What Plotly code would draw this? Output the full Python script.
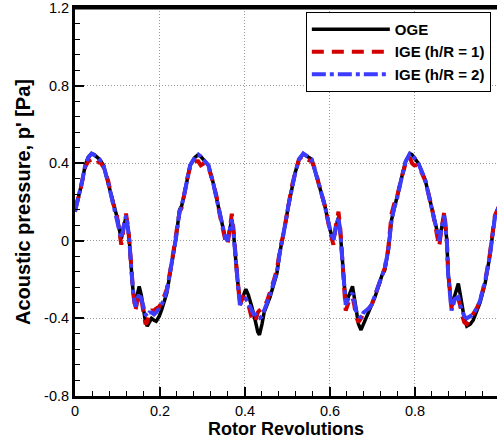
import plotly.graph_objects as go

# Rotor revolutions (shared sample positions)
x_rev = [
    0.000, 0.006, 0.012, 0.018, 0.024, 0.031, 0.039, 0.045, 0.051, 0.058, 0.067, 0.078, 0.090, 0.098,
    0.106, 0.109, 0.114, 0.120, 0.125, 0.128, 0.132, 0.137, 0.142, 0.147, 0.151, 0.156, 0.161, 0.166,
    0.170, 0.175, 0.180, 0.186, 0.191, 0.198, 0.204, 0.216, 0.227, 0.238, 0.246,
    0.251, 0.259, 0.265, 0.271, 0.282, 0.290, 0.296, 0.304, 0.314, 0.325, 0.333, 0.341, 0.353, 0.359,
    0.364, 0.369, 0.373, 0.376, 0.381, 0.388, 0.395, 0.402, 0.408, 0.416, 0.421, 0.425, 0.430, 0.434,
    0.440, 0.445, 0.452, 0.459, 0.467, 0.475, 0.482, 0.490, 0.496,
    0.502, 0.510, 0.518, 0.527, 0.537, 0.547, 0.557, 0.565, 0.573, 0.588, 0.600, 0.608, 0.614, 0.620,
    0.624, 0.626, 0.631, 0.637, 0.645, 0.653, 0.657, 0.661, 0.667, 0.673, 0.679, 0.685, 0.691, 0.698,
    0.706, 0.714, 0.722, 0.729, 0.737,
    0.745, 0.751, 0.757, 0.769, 0.778, 0.788, 0.793, 0.798, 0.808, 0.824, 0.839, 0.851, 0.857, 0.863,
    0.869, 0.872, 0.875, 0.878, 0.886, 0.894, 0.902, 0.906, 0.910, 0.916, 0.922, 0.930, 0.937, 0.945,
    0.953, 0.965, 0.976, 0.988, 1.000,
]

# OGE
p_oge = [
    0.15, 0.20, 0.26, 0.32, 0.39, 0.43, 0.45, 0.445, 0.435, 0.42, 0.39, 0.30, 0.19, 0.13,
    0.04, 0.01, 0.07, 0.12, 0.06, 0.00, -0.13, -0.27, -0.32, -0.27, -0.235, -0.28, -0.34, -0.42,
    -0.44, -0.42, -0.40, -0.41, -0.415, -0.39, -0.356, -0.27, -0.13, 0.02, 0.16,
    0.18, 0.26, 0.33, 0.39, 0.43, 0.444, 0.435, 0.415, 0.39, 0.30, 0.22, 0.14, 0.02, 0.005,
    0.06, 0.11, 0.04, -0.05, -0.17, -0.32, -0.29, -0.25, -0.28, -0.34, -0.38, -0.42, -0.47, -0.485,
    -0.43, -0.37, -0.33, -0.29, -0.23, -0.17, -0.06, 0.02, 0.10,
    0.18, 0.27, 0.35, 0.42, 0.449, 0.435, 0.42, 0.36, 0.30, 0.18, 0.057, 0.005, 0.07, 0.12,
    0.05, -0.01, -0.17, -0.32, -0.28, -0.235, -0.29, -0.356, -0.43, -0.46, -0.43, -0.40, -0.37, -0.34,
    -0.29, -0.235, -0.18, -0.15, -0.05,
    0.11, 0.17, 0.21, 0.33, 0.41, 0.45, 0.445, 0.43, 0.40, 0.315, 0.18, 0.057, 0.005, 0.07,
    0.134, 0.06, 0.005, -0.17, -0.34, -0.28, -0.22, -0.27, -0.32, -0.40, -0.44, -0.43, -0.41, -0.37,
    -0.32, -0.22, -0.08, 0.125, 0.19,
]

# IGE (h/R = 1)
p_ige1 = [
    0.17, 0.21, 0.25, 0.32, 0.38, 0.41, 0.42, 0.40, 0.40, 0.41, 0.38, 0.31, 0.19, 0.14,
    0.03, -0.02, 0.06, 0.14, 0.07, 0.00, -0.12, -0.27, -0.36, -0.31, -0.28, -0.30, -0.37, -0.43,
    -0.42, -0.37, -0.36, -0.36, -0.35, -0.34, -0.32, -0.25, -0.12, 0.03, 0.15,
    0.17, 0.27, 0.33, 0.38, 0.41, 0.41, 0.39, 0.40, 0.38, 0.30, 0.23, 0.13, 0.01, -0.02,
    0.07, 0.14, 0.06, -0.04, -0.16, -0.33, -0.29, -0.30, -0.33, -0.40, -0.42, -0.41, -0.37, -0.36,
    -0.35, -0.34, -0.31, -0.27, -0.21, -0.15, -0.05, 0.03, 0.11,
    0.17, 0.28, 0.35, 0.42, 0.44, 0.42, 0.41, 0.37, 0.30, 0.18, 0.05, -0.02, 0.08, 0.15,
    0.07, -0.01, -0.16, -0.36, -0.31, -0.29, -0.33, -0.39, -0.42, -0.40, -0.37, -0.36, -0.35, -0.33,
    -0.28, -0.22, -0.17, -0.14, -0.04,
    0.14, 0.19, 0.22, 0.33, 0.40, 0.43, 0.40, 0.39, 0.39, 0.31, 0.18, 0.04, -0.03, 0.07,
    0.15, 0.08, 0.00, -0.16, -0.35, -0.32, -0.30, -0.33, -0.38, -0.42, -0.43, -0.40, -0.38, -0.35,
    -0.31, -0.21, -0.07, 0.13, 0.19,
]

# IGE (h/R = 2)
p_ige2 = [
    0.15, 0.20, 0.26, 0.32, 0.39, 0.43, 0.45, 0.445, 0.435, 0.42, 0.39, 0.30, 0.19, 0.13,
    0.04, 0.01, 0.07, 0.13, 0.06, 0.00, -0.13, -0.27, -0.34, -0.30, -0.27, -0.30, -0.35, -0.38,
    -0.39, -0.37, -0.37, -0.38, -0.37, -0.35, -0.33, -0.26, -0.13, 0.02, 0.15,
    0.18, 0.26, 0.33, 0.39, 0.43, 0.445, 0.435, 0.415, 0.39, 0.30, 0.22, 0.14, 0.02, 0.00,
    0.06, 0.11, 0.04, -0.05, -0.17, -0.33, -0.31, -0.30, -0.32, -0.36, -0.38, -0.38, -0.40, -0.40,
    -0.39, -0.36, -0.32, -0.28, -0.22, -0.16, -0.06, 0.02, 0.10,
    0.18, 0.27, 0.35, 0.42, 0.45, 0.435, 0.42, 0.36, 0.30, 0.18, 0.06, 0.00, 0.07, 0.12,
    0.05, -0.01, -0.17, -0.33, -0.29, -0.27, -0.31, -0.36, -0.38, -0.40, -0.37, -0.36, -0.35, -0.33,
    -0.28, -0.23, -0.17, -0.14, -0.05,
    0.11, 0.17, 0.21, 0.33, 0.41, 0.45, 0.445, 0.43, 0.40, 0.315, 0.18, 0.06, 0.00, 0.07,
    0.13, 0.06, 0.00, -0.17, -0.36, -0.30, -0.29, -0.33, -0.36, -0.39, -0.40, -0.39, -0.38, -0.35,
    -0.31, -0.21, -0.08, 0.12, 0.19,
]

y_tickvals = [-0.8, -0.4, 0, 0.4, 0.8, 1.2]
y_ticktext = ["-0.8", "-0.4", "0", "0.4", "0.8", "1.2"]
x_tickvals = [0, 0.2, 0.4, 0.6, 0.8]
x_ticktext = ["0", "0.2", "0.4", "0.6", "0.8"]

FONT = "Liberation Sans, Arial, sans-serif"

fig = go.Figure()
fig.add_trace(go.Scatter(x=x_rev, y=p_oge, mode="lines", name="OGE",
                         line=dict(color="#000000", width=3.5)))
fig.add_trace(go.Scatter(x=x_rev, y=p_ige1, mode="lines", name="IGE (h/R = 1)",
                         line=dict(color="#d40000", width=4, dash="12px,8px")))
fig.add_trace(go.Scatter(x=x_rev, y=p_ige2, mode="lines", name="IGE (h/R = 2)",
                         line=dict(color="#3c3cff", width=4, dash="14px,4px,4px,4px")))

fig.update_layout(
    width=498, height=444,
    margin=dict(l=75, r=1, t=8, b=48),
    paper_bgcolor="white", plot_bgcolor="white",
    font=dict(family=FONT, color="black"),
    showlegend=True,
    legend=dict(x=0.547, y=0.99, xanchor="left", yanchor="top",
                bgcolor="white", bordercolor="black", borderwidth=1,
                font=dict(family=FONT, size=15, color="black", weight="bold"),
                itemwidth=78, tracegroupgap=0),
    xaxis=dict(range=[0, 0.993], tickvals=x_tickvals, ticktext=x_ticktext,
               showline=True, linecolor="black", linewidth=3, mirror=True,
               ticks="inside", ticklen=9, tickwidth=2, tickcolor="black",
               tickfont=dict(size=14.5, color="black"),
               minor=dict(ticks="inside", ticklen=5, tickwidth=1, tickcolor="black", dtick=0.04,
                          tick0=0, showgrid=False),
               showgrid=True, gridcolor="#999999", griddash="1px,2px", gridwidth=1,
               zeroline=False,
               title=dict(text="<b>Rotor Revolutions</b>", font=dict(size=18, color="black"),
                          standoff=4)),
    yaxis=dict(range=[-0.801, 1.2015], tickvals=y_tickvals, ticktext=y_ticktext,
               showline=True, linecolor="black", linewidth=3, mirror=False,
               ticks="inside", ticklen=9, tickwidth=2, tickcolor="black",
               tickfont=dict(size=14.5, color="black"),
               minor=dict(ticks="inside", ticklen=5, tickwidth=1, tickcolor="black", dtick=0.08,
                          tick0=0, showgrid=False),
               showgrid=True, gridcolor="#999999", griddash="1px,2px", gridwidth=1,
               zeroline=False,
               title=dict(text="<b>Acoustic pressure, p' [Pa]</b>", font=dict(size=20, color="black"),
                          standoff=9)),
    shapes=[dict(type="line", xref="paper", yref="paper", x0=0, x1=1, y0=1, y1=1,
                 line=dict(color="black", width=3))],
)

fig.write_html("out.html")
